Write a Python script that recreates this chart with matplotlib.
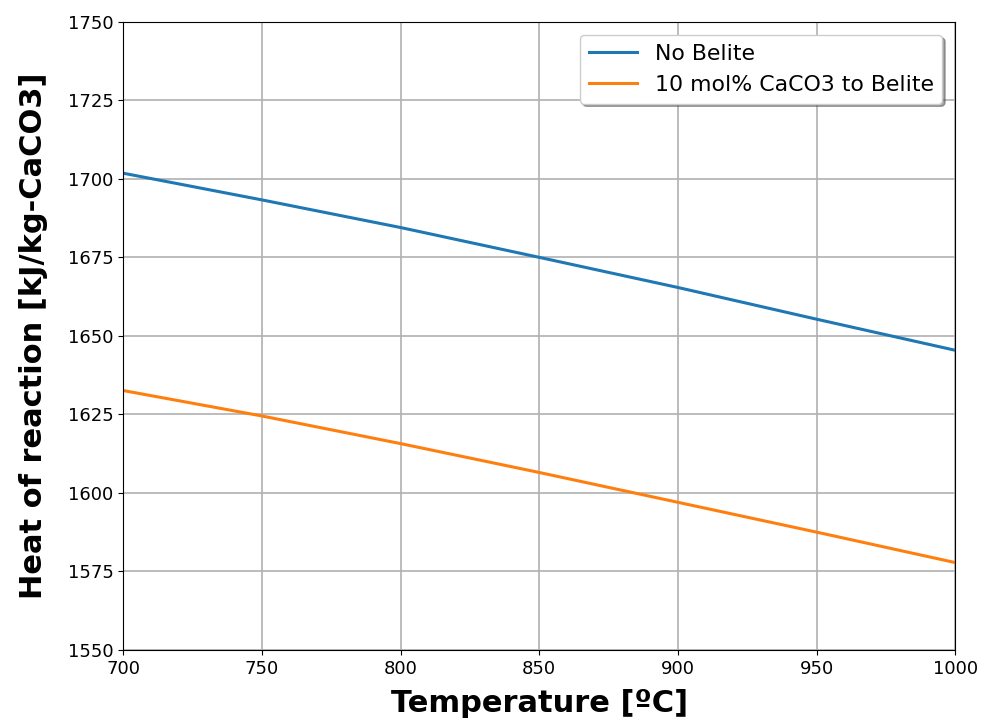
import numpy as np
from matplotlib import pyplot as plt

# temperature [C] and heat of reaction [kJ/kg-CaCO3]
temp = np.array([700, 750, 800, 850, 900, 950, 1000])
no_belite = np.array([1701.8, 1693.3, 1684.5, 1675.0, 1665.4, 1655.3, 1645.4])
belite_10 = np.array([1632.6, 1624.5, 1615.7, 1606.5, 1597.0, 1587.5, 1577.8])

fig = plt.figure(figsize=(9.85, 7.27), dpi=100)
ax = fig.add_axes([0.125, 0.106, 0.845, 0.864])

ax.plot(temp, no_belite, color='#1f77b4', lw=2.2, label='No Belite')
ax.plot(temp, belite_10, color='#ff7f0e', lw=2.2, label='10 mol% CaCO3 to Belite')

ax.set_xlim(700, 1000)
ax.set_ylim(1550, 1750)
ax.set_yticks(np.arange(1550, 1751, 25))
ax.grid(color='#b0b0b0', lw=1.2)
ax.tick_params(labelsize=13)

ax.set_xlabel('Temperature [ºC]', fontsize=22, fontweight='bold', labelpad=8)
ax.set_ylabel('Heat of reaction [kJ/kg-CaCO3]', fontsize=22, fontweight='bold', labelpad=14)

ax.legend(loc='upper right', fontsize=15.8, shadow=True, fancybox=True,
          borderaxespad=0.6, handlelength=2.2)

fig.savefig('out.png', dpi=100)
